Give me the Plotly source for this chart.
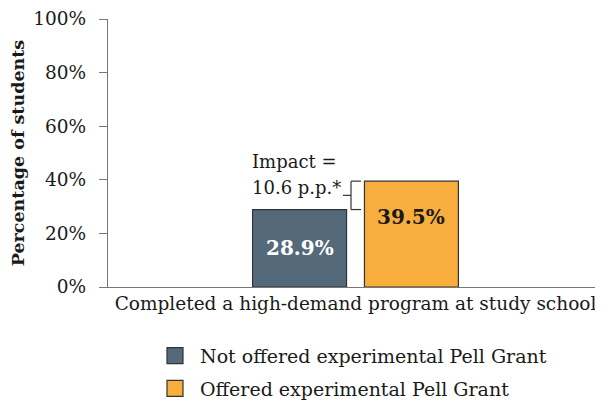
import plotly.graph_objects as go

categories = ["Completed a high-demand program at study school"]
series_names = ["Not offered experimental Pell Grant", "Offered experimental Pell Grant"]
series_values = [[28.9], [39.5]]
bar_labels = ["28.9%", "39.5%"]
impact_lines = ["Impact =", "10.6 p.p.*"]
y_ticks = [0, 20, 40, 60, 80, 100]
y_tick_labels = ["0%", "20%", "40%", "60%", "80%", "100%"]

colors = ["#546a7b", "#f8ae3c"]
text_colors = ["white", "#1a1a1a"]
FONT = "DejaVu Serif"
EDGE = "#333333"

# page has an 8px body margin; figure coords = page coords - 8
W, H = 595, 396
L, R, T, B = 100, 0, 11, 117
pw = W - L - R


def px(x):
    return (x - L) / pw


fig = go.Figure()
for i, (name, vals, c) in enumerate(zip(series_names, series_values, colors)):
    fig.add_trace(go.Bar(
        x=categories, y=vals, name=name, showlegend=False,
        marker=dict(color=c, line=dict(color=EDGE, width=1.2)),
        hoverinfo="skip",
    ))
for i, (name, c) in enumerate(zip(series_names, colors)):
    fig.add_trace(go.Scatter(
        x=[None], y=[None], name=name, mode="markers", legendgroup="g%d" % i,
        marker=dict(symbol="square", size=22, color=c, line=dict(color=EDGE, width=1.2)),
        hoverinfo="skip",
    ))

slot = 0.226
offs = [-slot / 2, slot / 2]
label_y = [series_values[0][0] / 2, series_values[1][0] - 13.5]
for i in range(2):
    fig.add_annotation(
        x=0.5 + offs[i], xref="paper", y=label_y[i], yref="y",
        text="<b>%s</b>" % bar_labels[i], showarrow=False,
        font=dict(family=FONT, size=20, color=text_colors[i]),
    )

# impact bracket
lo, hi = series_values[0][0], series_values[1][0]
mid = (lo + hi) / 2
bx, bx2, bx0 = px(343), px(353), px(335)
line = dict(color=EDGE, width=1.2)
fig.add_shape(type="line", xref="paper", yref="y", x0=bx, x1=bx, y0=lo, y1=hi, line=line)
fig.add_shape(type="line", xref="paper", yref="y", x0=bx, x1=bx2, y0=lo, y1=lo, line=line)
fig.add_shape(type="line", xref="paper", yref="y", x0=bx, x1=bx2, y0=hi, y1=hi, line=line)
fig.add_shape(type="line", xref="paper", yref="y", x0=bx0, x1=bx, y0=mid, y1=mid, line=line)
for k, txt in enumerate(impact_lines):
    fig.add_annotation(
        x=px(242), xref="paper", xanchor="left",
        y=mid, yref="y", yanchor="middle", yshift=8 + 25.5 * (1 - k),
        text=txt, showarrow=False, align="left",
        font=dict(family=FONT, size=18, color="#1a1a1a"),
    )

fig.update_layout(
    width=W, height=H,
    margin=dict(l=L, r=R, t=T, b=B, autoexpand=False),
    paper_bgcolor="white", plot_bgcolor="white",
    barmode="group", bargap=0.548, bargroupgap=0.16,
    font=dict(family=FONT, size=18, color="#1a1a1a"),
    showlegend=True,
    legend=dict(
        x=px(142), xanchor="left", y=-0.186, yanchor="top",
        font=dict(family=FONT, size=19, color="#1a1a1a"),
        tracegroupgap=5, itemwidth=40, itemsizing="trace",
    ),
    xaxis=dict(
        showline=True, linecolor="#777777", linewidth=1.2,
        ticks="", tickfont=dict(family=FONT, size=18.5),
        range=[-0.5, 0.5], automargin=False,
    ),
    yaxis=dict(
        range=[0, 100], tickvals=y_ticks, ticktext=y_tick_labels,
        showline=True, linecolor="#777777", linewidth=1.2,
        ticks="outside", ticklen=8, tickcolor="#777777",
        ticklabelstandoff=9, ticklabeloverflow="allow",
        showgrid=False, zeroline=False, automargin=False,
        tickfont=dict(family=FONT, size=18.5),
        title=dict(text="<b>Percentage of students</b>", font=dict(family=FONT, size=17.5), standoff=12),
    ),
)

fig.write_html("out.html")
